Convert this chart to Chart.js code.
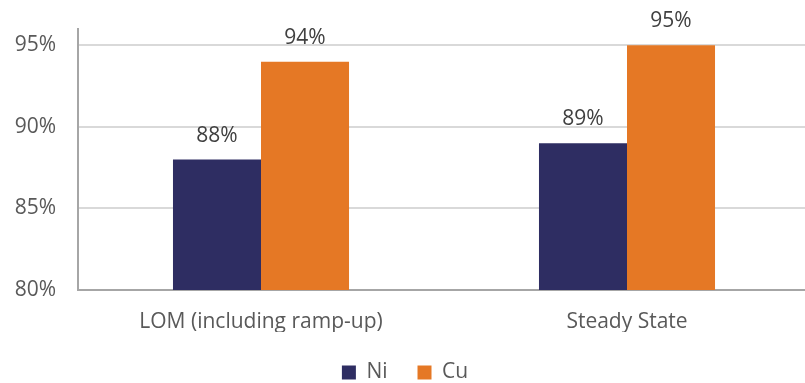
<!DOCTYPE html>
<html>
<head>
<meta charset="utf-8">
<script src="https://cdn.jsdelivr.net/npm/chart.js@4"></script>
<style>
  html, body { margin: 0; padding: 0; background: #fff; overflow: hidden; }
  #wrap { width: 810px; height: 383px; }
</style>
</head>
<body>
<div id="wrap"><canvas id="chart"></canvas></div>
<script>
// DATA
var categories = ['LOM (including ramp-up)', 'Steady State']
var niValues = [88, 89]
var cuValues = [94, 95]
var yTicks = [80, 85, 90, 95]

// COLORS
var navy = '#2E2D62'
var orange = '#E57825'
var tickGrey = '#595959'
var labelGrey = '#404040'

var font = "'Open Sans', sans-serif"

// value labels above the bars
var barLabels = {
  id: 'barLabels',
  afterDatasetsDraw: function (chart) {
    var ctx = chart.ctx
    ctx.save()
    ctx.font = '21px ' + font
    ctx.fillStyle = labelGrey
    ctx.textAlign = 'center'
    ctx.textBaseline = 'alphabetic'
    chart.data.datasets.forEach(function (ds, i) {
      chart.getDatasetMeta(i).data.forEach(function (bar, j) {
        ctx.fillText(ds.data[j] + '%', bar.x, bar.y - 18)
      })
    })
    ctx.restore()
  }
}

var chart = new Chart(document.getElementById('chart'), {
  type: 'bar',
  data: {
    labels: categories,
    datasets: [
      { label: 'Ni', data: niValues, backgroundColor: navy },
      { label: 'Cu', data: cuValues, backgroundColor: orange }
    ]
  },
  options: {
    responsive: true,
    maintainAspectRatio: false,
    animation: false,
    devicePixelRatio: 1,
    layout: { padding: { top: 29, left: 0, right: 0, bottom: 0 } },
    datasets: { bar: { categoryPercentage: 0.481, barPercentage: 1 } },
    scales: {
      x: {
        afterFit: function (scale) { scale.height = 42 },
        grid: { display: false },
        border: { color: '#a6a6a6', width: 2 },
        ticks: { color: tickGrey, font: { family: font, size: 21 }, padding: 11 }
      },
      y: {
        min: 80,
        max: 96,
        afterBuildTicks: function (scale) {
          scale.ticks = yTicks.map(function (v) { return { value: v } })
        },
        afterFit: function (scale) {
          scale.width = 78
          scale.paddingTop = 0
          scale.paddingBottom = 0
        },
        grid: { color: '#d9d9d9', lineWidth: 2, drawTicks: false },
        border: { color: '#a6a6a6', width: 2 },
        ticks: {
          color: tickGrey,
          font: { family: font, size: 21 },
          padding: 22,
          callback: function (v) { return v + '%' }
        }
      }
    },
    plugins: {
      legend: {
        position: 'bottom',
        labels: {
          color: tickGrey,
          font: { family: font, size: 21 },
          boxWidth: 14,
          boxHeight: 14,
          padding: 30
        }
      },
      tooltip: { enabled: false }
    }
  },
  plugins: [barLabels]
})

// legend keeps its wide item spacing but a shorter box
var legendFit = chart.legend.fit
chart.legend.fit = function () {
  legendFit.call(this)
  this.height = 51
}
chart.update()
</script>
</body>
</html>
